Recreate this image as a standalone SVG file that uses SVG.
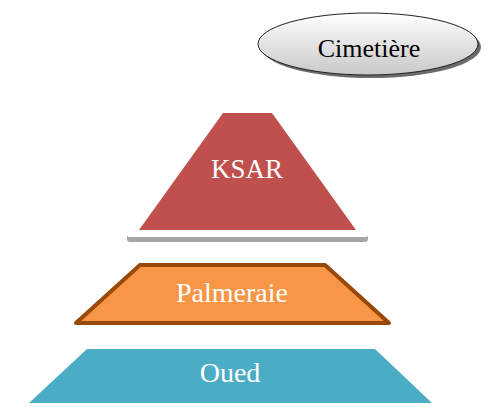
<svg xmlns="http://www.w3.org/2000/svg" width="485" height="407" viewBox="0 0 485 407">
<defs>
<linearGradient id="g" x1="0" y1="0" x2="0" y2="1">
<stop offset="0" stop-color="#ffffff"/>
<stop offset="1" stop-color="#c8c8c8"/>
</linearGradient>
<style>
text{font-family:"Liberation Serif","Times New Roman",serif;text-anchor:middle}
.w{fill:#ffffff}
</style>
</defs>
<g id="cimetiere">
<ellipse cx="371" cy="47" rx="110" ry="31" fill="#6b6b6b"/>
<ellipse cx="368" cy="44" rx="110" ry="31" fill="url(#g)" stroke="#222" stroke-width="1"/>
<text x="369" y="57" font-size="26" fill="#000">Cimetière</text>
</g>
<g id="ksar">
<rect x="127" y="233" width="241" height="9" rx="3" fill="#a6a6a6"/>
<rect x="127" y="231" width="241" height="6" rx="2" fill="#ffffff"/>
<polygon points="223,113 272,113 356,230 139,230" fill="#c0504d"/>
<text class="w" x="247" y="178" font-size="27">KSAR</text>
</g>
<g id="palmeraie">
<polygon points="140,265 325,265 389,323 76,323" fill="#f79646" stroke="#984807" stroke-width="4" stroke-linejoin="round"/>
<text class="w" x="232" y="302" font-size="28">Palmeraie</text>
</g>
<g id="oued">
<polygon points="87,349 375,349 432,403 29,403" fill="#4bacc6"/>
<text class="w" x="230" y="382" font-size="28">Oued</text>
</g>
<g id="connectors"/>
</svg>
